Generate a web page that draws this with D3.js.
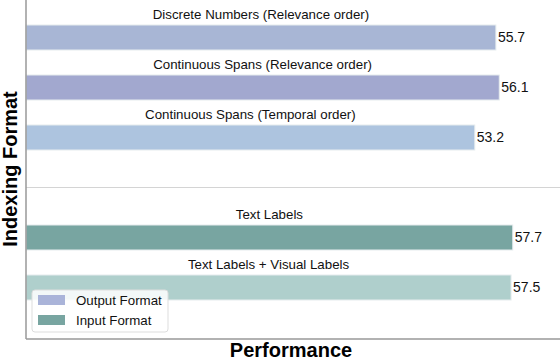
<!DOCTYPE html>
<html>
<head>
<meta charset="utf-8">
<script src="https://cdn.jsdelivr.net/npm/d3@7"></script>
<style>
  body { margin: 0; background: #fff; }
  text { font-family: "Liberation Sans", Arial, sans-serif; }
</style>
</head>
<body>
<svg id="chart" width="560" height="360"></svg>
<script>
// data
const labels = [
  "Discrete Numbers (Relevance order)",
  "Continuous Spans (Relevance order)",
  "Continuous Spans (Temporal order)",
  "Text Labels",
  "Text Labels + Visual Labels"
];
const scores = [55.7, 56.1, 53.2, 57.7, 57.5];
const slots = [0, 1, 2, 4, 5];   // slot 3 is the gap between the groups
const colors = ["#a8b6d5", "#a2a8cf", "#adc4df", "#78a5a1", "#afcfcc"];
const legendNames = ["Output Format", "Input Format"];
const legendColors = ["#aab4d9", "#78a5a1"];

const svg = d3.select("#chart"),
      plotLeft = 26, plotRight = 560, plotTop = 0, plotBottom = 339;

const xScale = d3.scaleLinear().domain([0, 63.3]).range([plotLeft, plotRight]);
const yScale = d3.scaleBand().domain(d3.range(6)).range([12.5, 312.5])
  .paddingInner(0.5).paddingOuter(0.25);

const g = svg.append("g");

// bars
g.selectAll("rect.bar")
  .data(scores)
  .enter()
  .append("rect")
  .attr("class", "bar")
  .attr("x", xScale(0))
  .attr("y", (d, i) => yScale(slots[i]))
  .attr("width", d => xScale(d) - xScale(0))
  .attr("height", yScale.bandwidth())
  .attr("fill", (d, i) => colors[i])
  .attr("stroke", "#e6ecee")
  .attr("stroke-width", 1);

// names above bars
g.selectAll("text.name")
  .data(labels)
  .enter()
  .append("text")
  .attr("class", "name")
  .attr("x", (d, i) => (xScale(0) + xScale(scores[i])) / 2)
  .attr("y", (d, i) => yScale(slots[i]) - 6)
  .attr("text-anchor", "middle")
  .style("font-size", "13.3px")
  .style("fill", "#111")
  .text(d => d);

// values at bar ends
g.selectAll("text.val")
  .data(scores)
  .enter()
  .append("text")
  .attr("class", "val")
  .attr("x", d => xScale(d) + 2)
  .attr("y", (d, i) => yScale(slots[i]) + yScale.bandwidth() / 2)
  .attr("dy", "0.35em")
  .style("font-size", "14px")
  .style("fill", "#111")
  .text(d => d.toFixed(1));

// group separator
const sepY = yScale(3) + yScale.bandwidth() / 2;
g.append("line")
  .attr("x1", plotLeft).attr("x2", plotRight)
  .attr("y1", sepY).attr("y2", sepY)
  .attr("stroke", "#d4d4d4").attr("stroke-width", 1.2);

// spines
g.append("line")
  .attr("x1", plotLeft).attr("x2", plotLeft)
  .attr("y1", plotTop).attr("y2", plotBottom)
  .attr("stroke", "#999").attr("stroke-width", 1.5);
g.append("line")
  .attr("x1", plotLeft).attr("x2", plotRight)
  .attr("y1", plotBottom).attr("y2", plotBottom)
  .attr("stroke", "#999").attr("stroke-width", 1.5);

// axis titles
svg.append("text")
  .attr("transform", "translate(17, 169) rotate(-90)")
  .attr("text-anchor", "middle")
  .style("font-size", "20px")
  .style("font-weight", "bold")
  .style("fill", "#000")
  .text("Indexing Format");

svg.append("text")
  .attr("x", (plotLeft + plotRight) / 2 - 2)
  .attr("y", 357)
  .attr("text-anchor", "middle")
  .style("font-size", "20px")
  .style("font-weight", "bold")
  .style("fill", "#000")
  .text("Performance");

// legend
const lg = svg.append("g").attr("transform", "translate(32, 290)");
lg.append("rect")
  .attr("width", 136).attr("height", 42)
  .attr("rx", 3)
  .attr("fill", "#fff").attr("fill-opacity", 0.85)
  .attr("stroke", "#ddd").attr("stroke-width", 1);
lg.selectAll("rect.key")
  .data(legendNames)
  .enter()
  .append("rect")
  .attr("class", "key")
  .attr("x", 6)
  .attr("y", (d, i) => 5 + i * 20)
  .attr("width", 27).attr("height", 10)
  .attr("fill", (d, i) => legendColors[i]);
lg.selectAll("text.key")
  .data(legendNames)
  .enter()
  .append("text")
  .attr("class", "key")
  .attr("x", 44)
  .attr("y", (d, i) => 10 + i * 20)
  .attr("dy", "0.35em")
  .style("font-size", "13.3px")
  .style("fill", "#111")
  .text(d => d);
</script>
</body>
</html>
